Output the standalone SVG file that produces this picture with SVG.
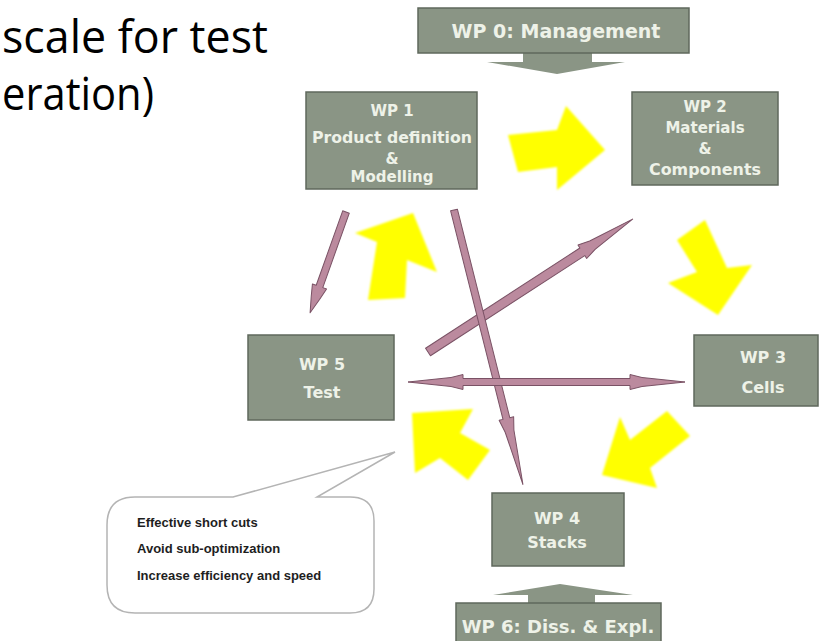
<svg xmlns="http://www.w3.org/2000/svg" width="823" height="641" viewBox="0 0 823 641">
  <defs>
    <style>
      .box { fill: #8a9585; stroke: #5f685c; stroke-width: 1.5; }
      .lbl { font-family: "DejaVu Sans", "Liberation Sans", sans-serif; font-weight: bold; fill: #eef2e8; text-anchor: middle; }
      .flow { fill: #ffff00; filter: url(#soft); }
      .link { fill: #bb8a9e; stroke: #7a5265; stroke-width: 1; stroke-linejoin: round; }
      .feed { fill: #8a9585; }
      .note { font-family: "Liberation Sans", Arial, sans-serif; font-weight: bold; font-size: 13px; fill: #1e1e1e; }
      .title { font-family: "Open Sans", "Liberation Sans", sans-serif; font-size: 46px; fill: #000; }
    </style>
    <filter id="soft" x="-20%" y="-20%" width="140%" height="140%">
      <feGaussianBlur stdDeviation="0.9"/>
    </filter>
  </defs>

  <rect width="823" height="641" fill="#ffffff"/>

  <!-- heading fragment -->
  <text class="title" x="2" y="53" textLength="266" lengthAdjust="spacingAndGlyphs">scale for test</text>
  <text class="title" x="2" y="110" textLength="152" lengthAdjust="spacingAndGlyphs">eration)</text>

  <!-- cycle arrows and cross links -->
  <g id="connectors">
    <!-- yellow cycle -->
    <polygon class="flow" points="508,135 557,130 566,106 605,150 557,190 557,167 518,172"/>
    <polygon class="flow" points="677,240 705,220 727,268 752,265 718,315 668,283 697,272"/>
    <polygon class="flow" points="667,411 690,436 650,468 657,488 602,475 620,417 630,440"/>
    <polygon class="flow" points="412,413 473,409 460,433 490,450 468,480 440,458 415,473"/>
    <polygon class="flow" points="413,213 437,272 407,260 405,298 368,300 377,242 355,233"/>

    <!-- management / dissemination feeds -->
    <polygon class="feed" points="523,52 592,52 592,62 625,62 557,74 487,62 523,62"/>
    <polygon class="feed" points="528,604 528,595 493,595 560,584 633,595 595,595 595,604"/>

    <!-- mauve cross links -->
    <path class="link" transform="translate(346,212) rotate(109.6)" d="M0,-3.5 L79,-3.5 L79,-7.5 L91,-4.5 L107,0 L91,4.5 L79,7.5 L79,3.5 L0,3.5 Z"/>
    <path class="link" transform="translate(428,352) rotate(-33)" d="M0,-4.5 L184,-4.5 L184,-8 L196,-5 L244,0 L196,5 L184,8 L184,4.5 L0,4.5 Z"/>
    <path class="link" transform="translate(454,210) rotate(75.9)" d="M0,-3.5 L215,-3.5 L215,-7.5 L228,-4.5 L283,0 L228,4.5 L215,7.5 L215,3.5 L0,3.5 Z"/>
    <path class="link" d="M408,382 L451,377.5 L463,374.5 L463,378.5 L630,378.5 L630,374.5 L642,377.5 L685,382 L642,386.5 L630,389.5 L630,385.5 L463,385.5 L463,389.5 L451,386.5 Z"/>
  </g>

  <g id="wp0">
    <rect class="box" x="418" y="8" width="271" height="45"/>
    <text class="lbl" x="556" y="38" font-size="19">WP 0: Management</text>
  </g>

  <g id="wp1">
    <rect class="box" x="306" y="92" width="171" height="97"/>
    <text class="lbl" x="392" y="116" font-size="15">WP 1</text>
    <text class="lbl" x="392" y="143" font-size="15" textLength="160" lengthAdjust="spacingAndGlyphs">Product definition</text>
    <text class="lbl" x="392" y="164" font-size="15">&amp;</text>
    <text class="lbl" x="392" y="182" font-size="15">Modelling</text>
  </g>

  <g id="wp2">
    <rect class="box" x="632" y="92" width="146" height="93"/>
    <text class="lbl" x="705" y="112" font-size="15">WP 2</text>
    <text class="lbl" x="705" y="133" font-size="15">Materials</text>
    <text class="lbl" x="705" y="154" font-size="15">&amp;</text>
    <text class="lbl" x="705" y="175" font-size="15" textLength="112" lengthAdjust="spacingAndGlyphs">Components</text>
  </g>

  <g id="wp3">
    <rect class="box" x="694" y="335" width="124" height="71"/>
    <text class="lbl" x="763" y="363" font-size="16">WP 3</text>
    <text class="lbl" x="763" y="393" font-size="16">Cells</text>
  </g>

  <g id="wp4">
    <rect class="box" x="492" y="493" width="132" height="73"/>
    <text class="lbl" x="557" y="524" font-size="16">WP 4</text>
    <text class="lbl" x="557" y="548" font-size="16">Stacks</text>
  </g>

  <g id="wp5">
    <rect class="box" x="248" y="335" width="146" height="85"/>
    <text class="lbl" x="322" y="370" font-size="16">WP 5</text>
    <text class="lbl" x="322" y="398" font-size="16">Test</text>
  </g>

  <g id="wp6">
    <rect class="box" x="456" y="603" width="205" height="45"/>
    <text class="lbl" x="558" y="633" font-size="18">WP 6: Diss. &amp; Expl.</text>
  </g>

  <g id="callout">
    <path d="M135,497 L233,497 L395,452 L317,497 L350,497 Q374,497 374,521 L374,589 Q374,613 350,613 L135,613 Q107,613 107,585 L107,525 Q107,497 135,497 Z" fill="#ffffff" stroke="#b4b4b4" stroke-width="1.5"/>
    <text class="note" x="137" y="527">Effective short cuts</text>
    <text class="note" x="137" y="553">Avoid sub-optimization</text>
    <text class="note" x="137" y="580">Increase efficiency and speed</text>
  </g>
</svg>
